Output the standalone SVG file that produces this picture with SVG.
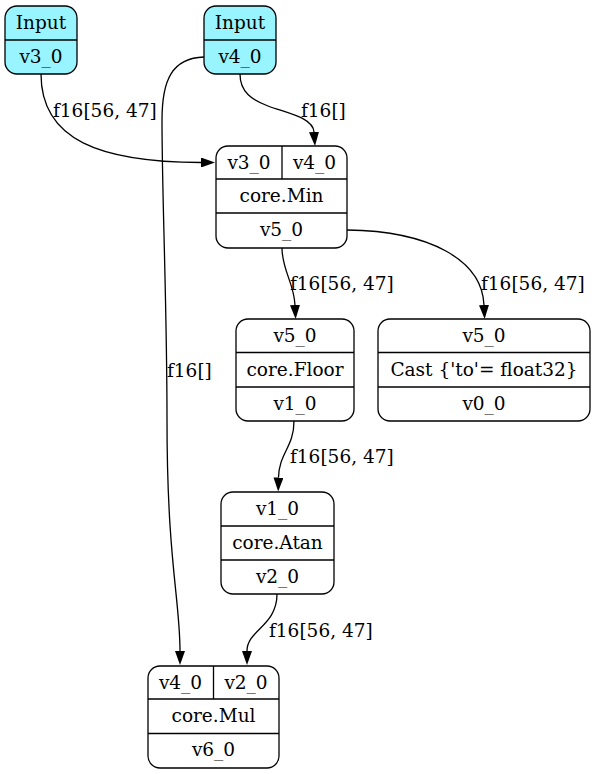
<svg xmlns="http://www.w3.org/2000/svg" width="595" height="774" viewBox="0 0 595 774">
<style>
.box{fill:#ffffff;stroke:#000;stroke-width:1.3}
.inp{fill:#98f5ff;stroke:#000;stroke-width:1.3}
.div{stroke:#000;stroke-width:1.3;fill:none}
text{font-family:"DejaVu Serif","Liberation Serif",serif;font-size:18.5px;fill:#000}
.c{text-anchor:middle}
.edge{fill:none;stroke:#000;stroke-width:1.3}
</style>
<defs>
<marker id="arr" viewBox="0 0 14 10" refX="0" refY="5" markerWidth="14" markerHeight="10" markerUnits="userSpaceOnUse" orient="auto">
<path d="M0,0 L14,5 L0,10 Z" fill="#000"/>
</marker>
</defs>
<rect width="595" height="774" fill="#fff"/>
<g id="connectors">
<path class="edge" marker-end="url(#arr)" d="M41,74 C41,140 100,162 201,162.5"/>
<text x="53" y="117">f16[56, 47]</text>
<path class="edge" marker-end="url(#arr)" d="M240,74 C240,92 252,100 268,106 C290,114 313,118 314,132"/>
<text x="301" y="117">f16[]</text>
<path class="edge" marker-end="url(#arr)" d="M204,57 C172,58 162,80 162,120 C162,200 167,300 167,420 C167,560 180,600 180,651"/>
<text x="167" y="377">f16[]</text>
<path class="edge" marker-end="url(#arr)" d="M282,248 C282,270 294,283 295,305"/>
<text x="290" y="290">f16[56, 47]</text>
<path class="edge" marker-end="url(#arr)" d="M347,230 C430,231 482,260 484,305"/>
<text x="481" y="290">f16[56, 47]</text>
<path class="edge" marker-end="url(#arr)" d="M294,421 C294,447 279,453 278.5,477.5"/>
<text x="290" y="463">f16[56, 47]</text>
<path class="edge" marker-end="url(#arr)" d="M277,594 C277,626 247,630 247,651"/>
<text x="269" y="637">f16[56, 47]</text>
</g>
<g id="input_v3_0">
<rect class="inp" x="5" y="6" width="72" height="68" rx="12"/>
<line class="div" x1="5" y1="40" x2="77" y2="40"/>
<text class="c" x="41" y="29">Input</text>
<text class="c" x="41" y="63">v3_0</text>
</g>
<g id="input_v4_0">
<rect class="inp" x="204" y="6" width="72" height="68" rx="12"/>
<line class="div" x1="204" y1="40" x2="276" y2="40"/>
<text class="c" x="240" y="29">Input</text>
<text class="c" x="240" y="63">v4_0</text>
</g>
<g id="core_min">
<rect class="box" x="216" y="146" width="131" height="102" rx="12"/>
<line class="div" x1="216" y1="179" x2="347" y2="179"/>
<line class="div" x1="216" y1="213" x2="347" y2="213"/>
<line class="div" x1="282" y1="146" x2="282" y2="179"/>
<text class="c" x="249" y="169">v3_0</text>
<text class="c" x="314.5" y="169">v4_0</text>
<text class="c" x="281.5" y="202">core.Min</text>
<text class="c" x="281.5" y="236">v5_0</text>
</g>
<g id="core_floor">
<rect class="box" x="236" y="319" width="118" height="102" rx="12"/>
<line class="div" x1="236" y1="352.5" x2="354" y2="352.5"/>
<line class="div" x1="236" y1="387" x2="354" y2="387"/>
<text class="c" x="295" y="342">v5_0</text>
<text class="c" x="295" y="376">core.Floor</text>
<text class="c" x="295" y="410">v1_0</text>
</g>
<g id="cast">
<rect class="box" x="378" y="319" width="212" height="102" rx="12"/>
<line class="div" x1="378" y1="352.5" x2="590" y2="352.5"/>
<line class="div" x1="378" y1="387" x2="590" y2="387"/>
<text class="c" x="484" y="342">v5_0</text>
<text class="c" x="484" y="376">Cast {'to'= float32}</text>
<text class="c" x="484" y="410">v0_0</text>
</g>
<g id="core_atan">
<rect class="box" x="221" y="492" width="113" height="102" rx="12"/>
<line class="div" x1="221" y1="526" x2="334" y2="526"/>
<line class="div" x1="221" y1="560" x2="334" y2="560"/>
<text class="c" x="277.5" y="515">v1_0</text>
<text class="c" x="277.5" y="549">core.Atan</text>
<text class="c" x="277.5" y="583">v2_0</text>
</g>
<g id="core_mul">
<rect class="box" x="148" y="666" width="131" height="102" rx="12"/>
<line class="div" x1="148" y1="699" x2="279" y2="699"/>
<line class="div" x1="148" y1="733.5" x2="279" y2="733.5"/>
<line class="div" x1="213.5" y1="666" x2="213.5" y2="699"/>
<text class="c" x="180.5" y="689">v4_0</text>
<text class="c" x="246" y="689">v2_0</text>
<text class="c" x="213.5" y="722">core.Mul</text>
<text class="c" x="213.5" y="756">v6_0</text>
</g>
</svg>
